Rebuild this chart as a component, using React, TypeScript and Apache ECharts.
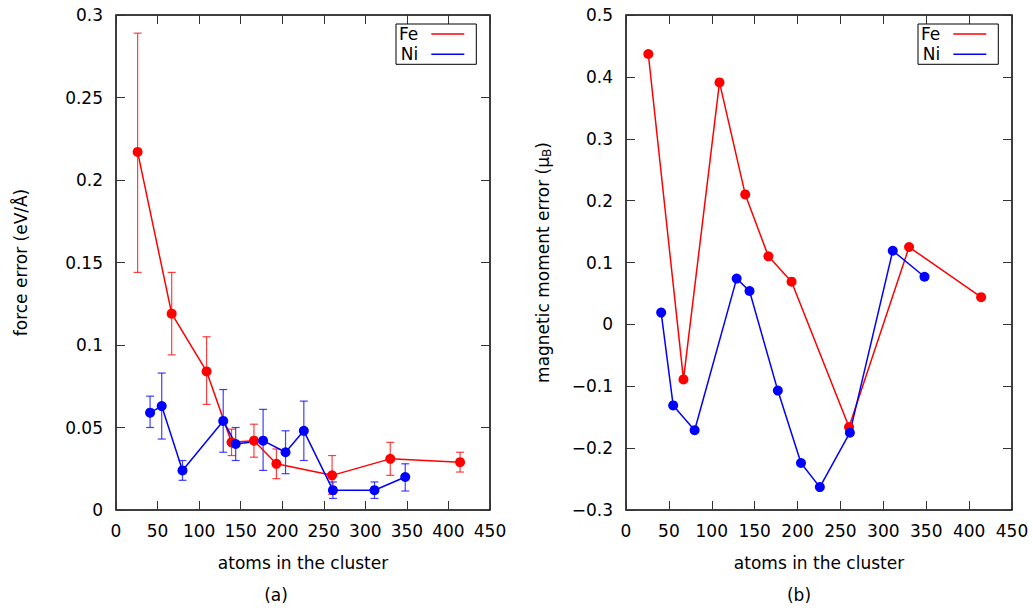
import React, { useEffect, useRef } from "react";
import * as echarts from "echarts";

// ---- data ----
const feAtoms = [26, 67, 109, 139, 166, 193, 260, 330, 414];
const niAtoms = [41, 55, 80, 129, 144, 177, 204, 226, 261, 311, 348];

const feForce = [0.217, 0.119, 0.084, 0.041, 0.042, 0.028, 0.021, 0.031, 0.029];
const feForceLo = [0.144, 0.094, 0.064, 0.033, 0.032, 0.019, 0.0095, 0.021, 0.023];
const feForceHi = [0.289, 0.144, 0.105, 0.049, 0.052, 0.037, 0.033, 0.041, 0.035];

const niForce = [0.059, 0.063, 0.024, 0.054, 0.040, 0.042, 0.035, 0.048, 0.012, 0.012, 0.020];
const niForceLo = [0.050, 0.043, 0.018, 0.035, 0.030, 0.024, 0.022, 0.030, 0.007, 0.007, 0.0115];
const niForceHi = [0.069, 0.083, 0.030, 0.073, 0.050, 0.061, 0.048, 0.066, 0.017, 0.017, 0.028];

const feMag = [0.437, -0.089, 0.391, 0.210, 0.110, 0.069, -0.166, 0.125, 0.044];
const niMag = [0.019, -0.131, -0.171, 0.074, 0.054, -0.107, -0.224, -0.263, -0.175, 0.119, 0.077];

const xLabel = "atoms in the cluster";
const yLabelA = "force error (eV/Å)";
const yLabelB = "magnetic moment error (μ{sub|B})";
const panelTags = ["(a)", "(b)"];
const legendNames = ["Fe", "Ni"];

const RED = "#ff0000";
const BLUE = "#0000ff";
const FONT = "DejaVu Sans";
const FS = 17;

const fmt = (v: number) => {
  const r = Math.round(v * 1000) / 1000;
  return String(r).replace("-", "\u2212");
};

export default function App() {
  const ref = useRef<HTMLDivElement>(null);

  useEffect(() => {
    if (!ref.current) return;
    const chart = echarts.init(ref.current, undefined, { renderer: "svg" });

    const grids = [
      { left: 116, top: 15, width: 374, height: 495 },
      { left: 626, top: 15, width: 386, height: 495 },
    ];

    const tickStyle = { show: true, inside: true, length: 9, lineStyle: { color: "#333", width: 1 } };
    const noLine = { show: false, onZero: false };

    const xAxes: any[] = [];
    const yAxes: any[] = [];
    [0, 1].forEach((g) => {
      xAxes.push({
        type: "value",
        gridIndex: g,
        min: 0,
        max: 450,
        interval: 50,
        position: "bottom",
        axisLine: noLine,
        axisTick: tickStyle,
        splitLine: { show: false },
        axisLabel: { color: "#000", fontFamily: FONT, fontSize: FS, margin: 12 },
        name: xLabel,
        nameLocation: "middle",
        nameGap: 44,
        nameTextStyle: { color: "#000", fontFamily: FONT, fontSize: FS },
      });
      xAxes.push({
        type: "value",
        gridIndex: g,
        min: 0,
        max: 450,
        interval: 50,
        position: "top",
        axisLine: noLine,
        axisTick: tickStyle,
        splitLine: { show: false },
        axisLabel: { show: false },
      });
    });

    yAxes.push({
      type: "value",
      gridIndex: 0,
      min: 0,
      max: 0.3,
      interval: 0.05,
      position: "left",
      axisLine: noLine,
      axisTick: tickStyle,
      splitLine: { show: false },
      axisLabel: { color: "#000", fontFamily: FONT, fontSize: FS, margin: 13, formatter: fmt },
      name: yLabelA,
      nameLocation: "middle",
      nameGap: 87,
      nameRotate: 90,
      nameTextStyle: { color: "#000", fontFamily: FONT, fontSize: FS },
    });
    yAxes.push({
      type: "value",
      gridIndex: 0,
      min: 0,
      max: 0.3,
      interval: 0.05,
      position: "right",
      axisLine: noLine,
      axisTick: tickStyle,
      splitLine: { show: false },
      axisLabel: { show: false },
    });
    yAxes.push({
      type: "value",
      gridIndex: 1,
      min: -0.3,
      max: 0.5,
      interval: 0.1,
      position: "left",
      axisLine: noLine,
      axisTick: tickStyle,
      splitLine: { show: false },
      axisLabel: { color: "#000", fontFamily: FONT, fontSize: FS, margin: 13, formatter: fmt },
      name: yLabelB,
      nameLocation: "middle",
      nameGap: 73,
      nameRotate: 90,
      nameTextStyle: {
        color: "#000",
        fontFamily: FONT,
        fontSize: FS,
        rich: {
          sub: { fontFamily: FONT, fontSize: 12, color: "#000", verticalAlign: "bottom", padding: [8, 0, 0, 0] },
        },
      },
    });
    yAxes.push({
      type: "value",
      gridIndex: 1,
      min: -0.3,
      max: 0.5,
      interval: 0.1,
      position: "right",
      axisLine: noLine,
      axisTick: tickStyle,
      splitLine: { show: false },
      axisLabel: { show: false },
    });

    const errSeries = (name: string, xs: number[], lo: number[], hi: number[], color: string, xi: number, yi: number) => ({
      type: "custom",
      name,
      xAxisIndex: xi,
      yAxisIndex: yi,
      z: 1,
      silent: true,
      encode: { x: 0, y: [1, 2] },
      data: xs.map((x, i) => [x, lo[i], hi[i]]),
      renderItem: (params: any, api: any) => {
        const x = api.value(0);
        const pLo = api.coord([x, api.value(1)]);
        const pHi = api.coord([x, api.value(2)]);
        const w = 4;
        const style = { stroke: color, lineWidth: 1.2, opacity: 0.75 };
        return {
          type: "group",
          children: [
            { type: "line", shape: { x1: pLo[0], y1: pLo[1], x2: pHi[0], y2: pHi[1] }, style },
            { type: "line", shape: { x1: pLo[0] - w, y1: pLo[1], x2: pLo[0] + w, y2: pLo[1] }, style },
            { type: "line", shape: { x1: pHi[0] - w, y1: pHi[1], x2: pHi[0] + w, y2: pHi[1] }, style },
          ],
        };
      },
    });

    const lineSeries = (name: string, xs: number[], ys: number[], color: string, xi: number, yi: number) => ({
      type: "line",
      name,
      xAxisIndex: xi,
      yAxisIndex: yi,
      z: 2,
      data: xs.map((x, i) => [x, ys[i]]),
      symbol: "circle",
      symbolSize: 10,
      itemStyle: { color },
      lineStyle: { color, width: 1.5 },
      emphasis: { disabled: true },
    });

    const series: any[] = [
      errSeries("Fe-err-a", feAtoms, feForceLo, feForceHi, RED, 0, 0),
      lineSeries("Fe", feAtoms, feForce, RED, 0, 0),
      errSeries("Ni-err-a", niAtoms, niForceLo, niForceHi, BLUE, 0, 0),
      lineSeries("Ni", niAtoms, niForce, BLUE, 0, 0),
      lineSeries("Fe", feAtoms, feMag, RED, 2, 2),
      lineSeries("Ni", niAtoms, niMag, BLUE, 2, 2),
    ];

    const legend = (left: number) => ({
      orient: "vertical",
      left,
      top: 24,
      align: "right",
      data: legendNames.map((n) => ({ name: n, icon: "rect" })),
      itemWidth: 33,
      itemHeight: 1.5,
      itemGap: 3.3,
      padding: [1.5, 12, 1.5, 3],
      borderColor: "#000",
      borderWidth: 1,
      selectedMode: false,
      textStyle: { color: "#000", fontFamily: FONT, fontSize: FS, lineHeight: 17, padding: [0, 8, 0, 0] },
    });

    chart.setOption({
      animation: false,
      backgroundColor: "#fff",
      grid: grids.map((g) => ({ ...g, show: true, borderColor: "#000", borderWidth: 1.5, backgroundColor: "transparent" })),
      xAxis: xAxes,
      yAxis: yAxes,
      legend: [legend(396), legend(918)],
      series,
      graphic: [
        { type: "text", x: 276, y: 595, style: { text: panelTags[0], fontFamily: FONT, fontSize: FS, fill: "#000", align: "center", verticalAlign: "middle" } },
        { type: "text", x: 799, y: 595, style: { text: panelTags[1], fontFamily: FONT, fontSize: FS, fill: "#000", align: "center", verticalAlign: "middle" } },
      ],
    });

    return () => chart.dispose();
  }, []);

  return <div ref={ref} style={{ position: "fixed", left: 0, top: 0, width: 1033, height: 608 }} />;
}
